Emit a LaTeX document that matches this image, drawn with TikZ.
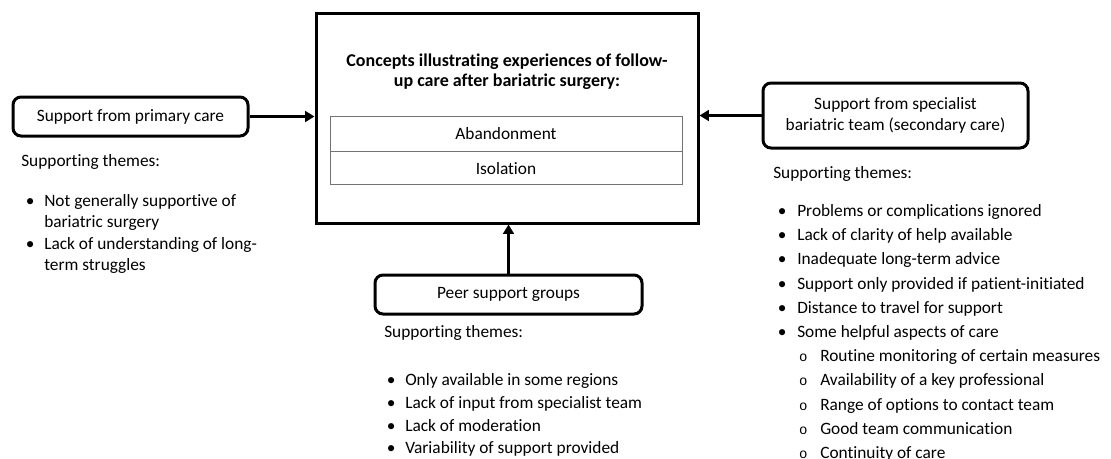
\documentclass[tikz,border=0pt]{standalone}
\usepackage{fontspec}
\setmainfont{Carlito}[Ligatures=NoCommon]
\newfontfamily\courier{Liberation Mono}
\usepackage{enumitem}
\usetikzlibrary{arrows.meta}

\tikzset{
  sourcebox/.style={draw, line width=2.25pt, rounded corners=6pt, align=center, inner sep=0pt},
  link/.style={line width=2.25pt, -{Triangle[length=7pt,width=8pt]}},
  rowbox/.style={draw=black!55, line width=0.6pt, minimum width=264pt, inner sep=0pt},
  themehead/.style={anchor=base west, inner sep=0pt},
  themelist/.style={anchor=north west, inner sep=0pt, text width=300pt, align=flush left},
}
\newcommand{\themedot}{\makebox[0pt][c]{\textbullet}}
\newcommand{\themering}{\makebox[0pt][c]{\courier\fontsize{10.5}{10}\selectfont o}}

\begin{document}
\begin{tikzpicture}[x=0.75pt, y=-0.75pt, font=\fontsize{13}{15}\selectfont]
    \useasboundingbox (0,0) rectangle (1111,458);
    % central concepts box
    \node[draw, line width=2.25pt, minimum width=286.5pt, minimum height=157.5pt, inner sep=0pt] (concepts) at (507,118) {};
    \node[font=\fontsize{13.5}{15}\selectfont\bfseries, align=center] (title) at (507,72) {Concepts illustrating experiences of follow-\\up care after bariatric surgery:};
    \node[rowbox, minimum height=26.25pt] (abandon) at (506,133.5) {Abandonment};
    \node[rowbox, minimum height=24.75pt, anchor=north] (isolation) at (abandon.south) {Isolation};

    % sources of support
    \node[sourcebox, minimum width=176.25pt, minimum height=29.25pt] (primary) at (130.5,116.5) {Support from primary care};
    \node[sourcebox, minimum width=198.75pt, minimum height=48.75pt, font=\fontsize{13}{15.75}\selectfont] (specialist) at (895.5,115.5) {Support from specialist\\bariatric team (secondary care)};
    \node[sourcebox, minimum width=200.25pt, minimum height=29.25pt] (peer) at (508.5,294.5) {Peer support groups};

    \draw[link] (primary.east) -- (primary.east -| concepts.west);
    \draw[link] (specialist.west) -- (specialist.west -| concepts.east);
    \draw[link] (peer.north) -- (peer.north |- concepts.south);

    % supporting themes
    \node[themehead] (primaryhead) at (21,166) {Supporting themes:};
    \node[themelist, font=\fontsize{13}{16}\selectfont] (primarylist) at (21,185) {%
      \begin{itemize}[nosep, leftmargin=17.25pt, labelsep=10.5pt, label=\themedot]
        \item Not generally supportive of\newline bariatric surgery
        \item Lack of understanding of long-\newline term struggles
      \end{itemize}};

    \node[themehead] (specialisthead) at (773,178) {Supporting themes:};
    \node[themelist, font=\fontsize{13}{18.15}\selectfont] (specialistlist) at (773,192) {%
      \begin{itemize}[nosep, leftmargin=18pt, labelsep=11.25pt, label=\themedot]
        \item Problems or complications ignored
        \item Lack of clarity of help available
        \item Inadequate long-term advice
        \item Support only provided if patient-initiated
        \item Distance to travel for support
        \item Some helpful aspects of care
        \begin{itemize}[nosep, leftmargin=17.25pt, labelsep=12.75pt, label=\themering]
          \item Routine monitoring of certain measures
          \item Availability of a key professional
          \item Range of options to contact team
          \item Good team communication
          \item Continuity of care
        \end{itemize}
      \end{itemize}};

    \node[themehead] (peerhead) at (384,337) {Supporting themes:};
    \node[themelist, font=\fontsize{13}{17}\selectfont] (peerlist) at (384,363) {%
      \begin{itemize}[nosep, leftmargin=15.75pt, labelsep=10.5pt, label=\themedot]
        \item Only available in some regions
        \item Lack of input from specialist team
        \item Lack of moderation
        \item Variability of support provided
      \end{itemize}};
\end{tikzpicture}
\end{document}
